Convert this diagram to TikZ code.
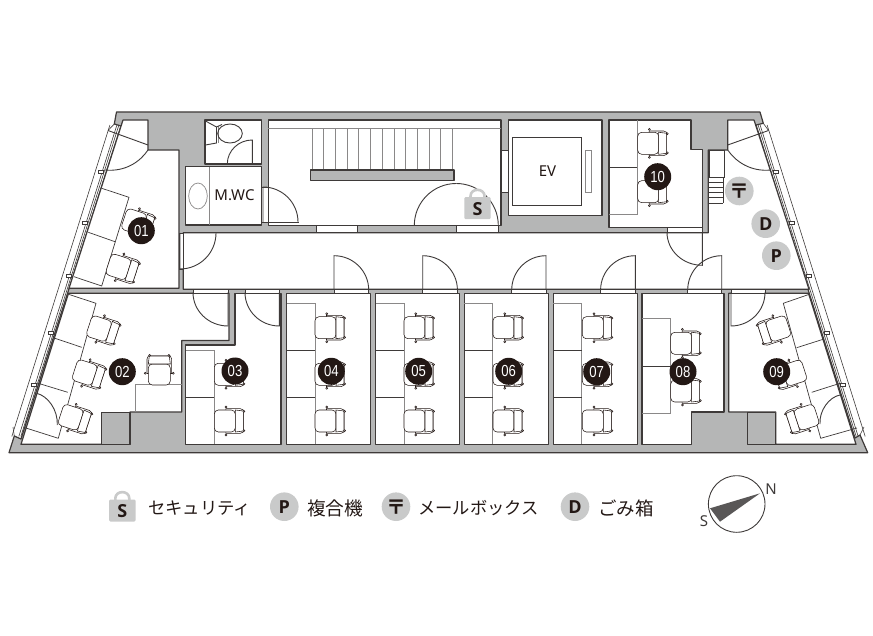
\documentclass[tikz,border=0pt]{standalone}
\usepackage{xcolor}
\usepackage{fontspec}
\usepackage{tikz}
\setmainfont{Noto Sans}
\newfontfamily\jpfont{Noto Sans CJK JP}
\newfontfamily\markfont[FakeStretch=0.82]{Liberation Sans}
\newfontfamily\signfont{Open Sans}
\definecolor{ink}{HTML}{231815}
\definecolor{wallline}{HTML}{3E3A39}
\definecolor{wallgrey}{HTML}{B5B6B6}
\definecolor{signgrey}{HTML}{C9CACA}
\definecolor{deskgrey}{HTML}{8A8888}
\definecolor{needle}{HTML}{595757}

\tikzset{
  doorarc/.pic={\draw[doorline] (0,1) .. controls (.5523,1) and (1,.5523) .. (1,0);},
  door/.pic={\draw[doorline] (0,0) -- (0,1) .. controls (.5523,1) and (1,.5523) .. (1,0);},
  chair/.pic={
    \draw[chairline,fill=white] (-3.5,-12.3) -- (11,-12.3) -- (14,-11) -- (14,11) -- (11,12.3) -- (-3.5,12.3) -- cycle;
    \draw[chairline,fill=white,rounded corners=4] (6,-11) -- (-15,-11) -- (-15,11) -- (6,11) -- cycle;
    \draw[chairline,fill=white] (6,-11) -- (14,-10) -- (14,10) -- (6,11) -- cycle;
    \foreach \cx/\cy in {-3.3/-14,-3.3/14,14.6/-9.6,14.6/9.6}
      \draw[chairline,fill=white] (\cx,\cy) circle (1);
  },
  lock/.pic={
    \draw[white,line width=4.5] (-6.5,-10) .. controls (-6.5,-20) and (6.5,-20) .. (6.5,-10);
    \draw[signgrey,line width=2.6] (-7,-10) -- (-7,-12) .. controls (-7,-20.5) and (7,-20.5) .. (7,-12) -- (7,-10);
    \fill[signgrey,rounded corners=1.2] (-13.2,-11) rectangle (13.2,11);
    \node[signtext] (s) at (0,0.5) {S};
  }
}

\begin{document}
\begin{tikzpicture}[
  x=1pt,y=-1pt,
  wall/.style={draw=wallline,line width=1.2,fill=wallgrey,line join=round},
  room/.style={draw=wallline,line width=1.2,fill=white,line join=round},
  opening/.style={draw=wallline,line width=.8,fill=white},
  doorline/.style={draw=wallline,line width=.9},
  chairline/.style={draw=ink,line width=.55},
  desk/.style={draw=deskgrey,line width=.7},
  deskline/.style={draw=wallline,line width=.7},
  glass/.style={draw=wallline,line width=.6},
  sign/.style={circle,fill=signgrey,minimum size=28.6pt,inner sep=0pt},
  signtext/.style={font=\signfont\bfseries\fontsize{18}{18}\selectfont,text=ink,inner sep=0pt},
  posttext/.style={font=\jpfont\bfseries\fontsize{20}{20}\selectfont,text=ink,inner sep=0pt},
  roommark/.style={circle,fill=ink,text=white,minimum size=27pt,inner sep=0pt,font=\markfont\fontsize{16}{16}\selectfont},
  legend/.style={anchor=west,inner sep=0pt,text=ink,font=\jpfont\fontsize{17.3}{20}\selectfont},
  plate/.style={text=ink,inner sep=0pt,font=\fontsize{15}{15}\selectfont}]
  \useasboundingbox (0,0) rectangle (873,636);

  \draw[wall] (116.5,112) -- (760,112) -- (763.3,123.3) -- (756,125) -- (855,438) -- (860,435) -- (867.7,452.7)
    -- (9,452.7) -- (14.3,436) -- (21,439) -- (121,126) -- (114.3,124) -- cycle;

  \foreach \off in {2.5,4.5,11.5} {
    \draw[glass] (123-\off-1.6,125) -- (21-\off+2.3,436.5);
    \draw[glass] (754+\off+1.6,125) -- (856+\off-2.3,436.5);
  }
  \draw[glass] (108,130.5) -- (114.3,124);
  \draw[glass] (768.5,130.5) -- (763.3,123.3);
  \draw[glass] (13,427) -- (14.3,436);
  \draw[glass] (864,427) -- (860,435);
  \foreach \ty in {172,223,276,333,385} {
    \draw[glass,fill=white] (123-.315*\ty+37.8-8,\ty-1.5) rectangle (123-.315*\ty+37.8-3,\ty+1.5);
    \draw[glass,fill=white] (754+.3148*\ty-37.8+3,\ty-1.5) rectangle (754+.3148*\ty-37.8+8,\ty+1.5);
  }

  \draw[room] (123,120) -- (148,120) -- (148,150) -- (179,150) -- (179,288.3) -- (69,288.3) -- cycle;
  \draw[room] (205,120) rectangle (261.7,164);
  \draw[room] (185.7,166.7) rectangle (261.7,225);
  \draw[room] (268.3,120) rectangle (501,225.5);
  \draw[room] (508.3,120) rectangle (602,215.7);
  \draw[room] (609,120) -- (691,120) -- (691,149.3) -- (702.3,149.3) -- (702.3,227.7) -- (609,227.7) -- cycle;
  \draw[room] (183.3,232.7) -- (708.3,232.7) -- (708.3,150) -- (727.7,150) -- (727.7,120) -- (754,120) -- (809,289.3) -- (183.3,289.3) -- cycle;
  \draw[room] (68.5,293.3) -- (229,293.3) -- (229,340.5) -- (181.7,340.5) -- (181.7,412) -- (130,412) -- (130,444.3) -- (21,444.3) -- cycle;
  \draw[room] (235,293.3) -- (281,293.3) -- (281,444.3) -- (185.7,444.3) -- (185.7,345) -- (235,345) -- cycle;
  \foreach \xa/\xb in {286.7/370.7,375.7/459.3,464.3/548.3,553.3/637.3}
    \draw[room] (\xa,293.3) rectangle (\xb,444.3);
  \draw[room] (642,293.3) -- (724,293.3) -- (724,412) -- (691.7,412) -- (691.7,444.3) -- (642,444.3) -- cycle;
  \draw[room] (728.7,293.3) -- (808.5,293.3) -- (856,444.3) -- (775.7,444.3) -- (775.7,412) -- (728.7,412) -- cycle;
  \draw[wall] (101.7,412.7) rectangle (130,444.3);
  \draw[wall] (747.3,412.3) rectangle (775.7,444.3);

  \foreach \xa/\xb in {193/228,245/279,334/368.7,422.7/457.7,511.7/546,600.7/635.3,687.7/721.7,731/765}
    \draw[opening] (\xa,289.3) rectangle (\xb,293.3);
  \draw[opening] (316,225.5) rectangle (357.5,232.7);
  \draw[opening] (456.3,225.5) rectangle (498.3,232.7);
  \draw[opening] (501,150) rectangle (508.3,192);
  \draw[opening] (261.7,187.5) rectangle (268.3,222);
  \draw[opening] (667,227.7) rectangle (702.3,232.7);
  \draw[opening] (179,233) rectangle (183.3,269);

  \draw[desk] (268.3,128.3) -- (501,128.3);
  \foreach \sx in {312,323.7,335.4,347.1,358.8,370.5,382.2,393.9,405.6,417.3,429,440.7,452.4}
    \draw[desk] (\sx,128.3) -- (\sx,170);
  \draw[wall] (310.7,170) rectangle (454,180.3);
  \draw[desk] (209,166.7) -- (209,225);
  \draw[desk] (198,196) ellipse [x radius=9.3,y radius=13];
  \draw[deskline] (512.7,137.3) rectangle (581.7,205.3);
  \draw[desk] (585,150) rectangle (591.5,192);

  \draw[doorline] (205.5,121) -- (216.5,127) -- (216.5,143) -- (205.5,145);
  \draw[desk] (218.3,126.5) -- (218.3,143.3);
  \draw[doorline] (216.5,127) -- (222,124.5);
  \draw[doorline] (230,133.5) ellipse [x radius=12.3,y radius=9.5];

  \draw[deskline,fill=white] (709,150) rectangle (724.7,177);
  \foreach \ry in {177,182.2,187.4,192.6,197.8,203}
    \draw[deskline] (709,\ry) -- (723,\ry);
  \draw[deskline] (723,177) -- (723,203);

  \foreach \dxa in {287,375.7,464.3,553.3} {
    \draw[desk] (\dxa,303.3) -- (\dxa+28.3,303.3) -- (\dxa+28.3,444.3);
    \draw[deskline] (\dxa,350.7) -- (\dxa+28.3,350.7);
    \draw[deskline] (\dxa,397.7) -- (\dxa+28.3,397.7);
  }
  \draw[desk] (186,350.7) -- (214,350.7) -- (214,444.3);
  \draw[deskline] (186,397.3) -- (214,397.3);
  \draw[desk] (642,318.3) -- (670.7,318.3) -- (670.7,413) -- (642,413);
  \draw[deskline] (642,366) -- (670.7,366);
  \draw[desk] (637.3,120) -- (637.3,214) -- (609,214);
  \draw[deskline] (609,167) -- (637.3,167);
  \draw[desk] (135,412) -- (135,384.5) -- (181.7,384.5);

  \draw[deskline] (101.7,188.3) -- (129,197.3) -- (101.7,286) -- (74,276.7);
  \draw[deskline] (88.3,232.3) -- (115,241.7);
  \draw[deskline] (68.5,294.3) -- (96,303.3) -- (58.3,438.3) -- (25,427.7);
  \draw[deskline] (55,338.3) -- (81.7,347.3);
  \draw[deskline] (38.3,383.3) -- (67.7,392.3);
  \draw[deskline] (809.3,294.3) -- (783.3,303.3) -- (820.7,438.3) -- (857,428);
  \draw[deskline] (796.7,347.7) -- (824,339);
  \draw[deskline] (811.7,392.3) -- (840,383.3);
  \draw[doorline] (36.7,393.3) .. controls (48,396) and (58,410) .. (57.3,425);
  \draw[doorline] (840,395) .. controls (829,397) and (819,411) .. (820,424);

  \draw[doorline] (148,145) -- (108,130.5);
  \draw[doorline] (148,150) .. controls (140,162) and (125,172) .. (105,170);
  \draw[doorline] (727.7,145) -- (768.5,130.5);
  \draw[doorline] (727.7,150) .. controls (736,162) and (751,172) .. (771,170);
  \draw[doorline] (261.7,222) -- (299,222);

  \foreach \hx/\hy/\wx/\wy in {334/290/34.7/-34.3,422.7/290/34.7/-34.3,546/290/-34.3/-34.3,635.3/290/-34.7/-34.3,721.7/290/-34/-34.3,
      731/292.5/34/33.5,279.3/292.5/-34.3/33.5,228/292.5/-35/33.5,702.3/232.3/-35.3/33,180/233/36/36,252.3/164/-25/-24,263/222/35/-35}
    \pic[xscale=\wx,yscale=\wy] at (\hx,\hy) {door};
  \pic[xscale=-42,yscale=-42] at (456.3,225.5) {doorarc};
  \pic[xscale=42,yscale=-42] at (456.3,225.5) {doorarc};

  \foreach \cxa in {330,419,508,597.3}
    \foreach \cya in {327.7,374.3,421}
      \pic at (\cxa,\cya) {chair};
  \foreach \cya in {374.3,421}
    \pic at (229.3,\cya) {chair};
  \foreach \cya in {343.3,391}
    \pic at (685.7,\cya) {chair};
  \foreach \cya in {143.3,191.7}
    \pic at (652.7,\cya) {chair};
  \pic[rotate=90] at (159.3,370) {chair};
  \foreach \cxa/\cya in {138.3/223,122.7/268.3,103.3/330,89/374,75/418.7}
    \pic[rotate=-18] at (\cxa,\cya) {chair};
  \foreach \cxa/\cya in {774/330,790/374.3,802.3/418.7}
    \pic[rotate=198] at (\cxa,\cya) {chair};

  \node[plate] (mwc) at (234.5,195.5) {M.WC};
  \node[plate] (ev) at (547.5,171.5) {EV};

  \foreach \n/\mx/\my in {01/141.3/230.7,02/122.3/371.7,03/235/371,04/331.3/371.3,05/418.7/371.3,06/508.7/371.3,07/596.7/371.7,08/683/371.7,09/776.7/371.7,10/657.7/176.7}
    \node[roommark] (room\n) at (\mx,\my) {\n};

  \pic (planlock) at (477.5,208.2) {lock};
  \node[sign] (planpost) at (739.3,191) {};
  \node[posttext] (planposttext) at (planpost) {〒};
  \node[sign] (plandust) at (765.7,223.7) {};
  \node[signtext] (plandusttext) at (plandust) {D};
  \node[sign] (planprint) at (776.3,255.7) {};
  \node[signtext] (planprinttext) at (planprint) {P};

  \pic (legendlock) at (122.3,510.5) {lock};
  \node[legend] (legendsecurity) at (148,508) {セキュリティ};
  \node[sign] (legendprint) at (284.3,506.7) {};
  \node[signtext] (legendprinttext) at (legendprint) {P};
  \node[legend,font=\jpfont\fontsize{18.7}{20}\selectfont] (legendcopy) at (307,508) {複合機};
  \node[sign] (legendpost) at (396,506.7) {};
  \node[posttext] (legendposttext) at (legendpost) {〒};
  \node[legend] (legendmail) at (418,508) {メールボックス};
  \node[sign] (legenddust) at (575,506.7) {};
  \node[signtext] (legenddusttext) at (legenddust) {D};
  \node[legend,font=\jpfont\fontsize{18.5}{20}\selectfont] (legendbin) at (598,508) {ごみ箱};

  \node[circle,draw=wallline,line width=.9,minimum size=56.6pt,inner sep=0pt] (compass) at (736.7,504) {};
  \fill[needle] (760,493.3) -- (710,508.3) -- (720,521.7) -- cycle;
  \node[plate,text=wallline] (north) at (771,489) {N};
  \node[plate,text=wallline] (south) at (704,521) {S};
\end{tikzpicture}
\end{document}
